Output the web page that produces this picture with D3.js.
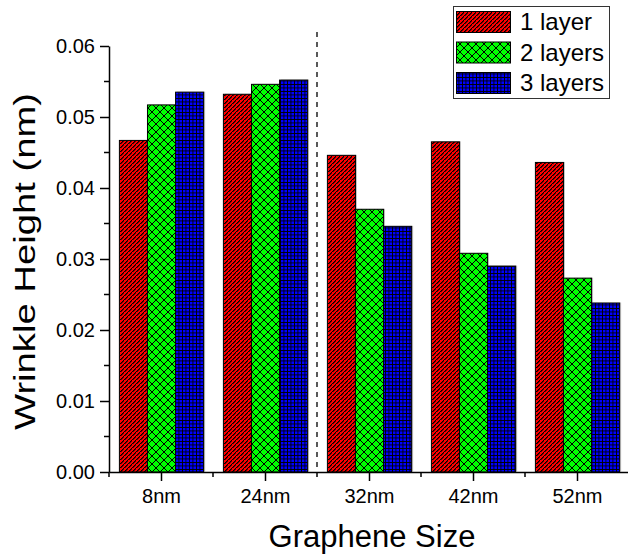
<!DOCTYPE html>
<html>
<head>
<meta charset="utf-8">
<script src="https://cdn.jsdelivr.net/npm/d3@7"></script>
<style>
  body { margin: 0; background: #fff; }
  text { font-family: "Liberation Sans", Arial, sans-serif; }
</style>
</head>
<body>
<div id="chart"></div>
<script>
// Chart data
var sizes = ["8nm", "24nm", "32nm", "42nm", "52nm"];
var seriesNames = ["1 layer", "2 layers", "3 layers"];
var oneLayer = [0.0467, 0.0532, 0.0446, 0.0465, 0.0436];
var twoLayers = [0.0517, 0.0546, 0.0370, 0.0308, 0.0273];
var threeLayers = [0.0535, 0.0552, 0.0346, 0.0290, 0.0238];
var yTicks = [0, 0.01, 0.02, 0.03, 0.04, 0.05, 0.06];

var width = 628;
var height = 555;
var plotLeft = 109, plotRight = 629, plotTop = 46, plotBottom = 472;

var allSeries = [oneLayer, twoLayers, threeLayers];
var fills = ["url(#p-red)", "url(#p-green)", "url(#p-blue)"];

var svg = d3.select('#chart')
    .append('svg')
    .attr('width', width)
    .attr('height', height);

// Patterns for the bars (crisp, like the original bitmap hatching)
var defs = svg.append('defs');

// red: "/" stripes every 4px, drawn pixel by pixel
var pRed = defs.append('pattern').attr('id', 'p-red')
    .attr('patternUnits', 'userSpaceOnUse').attr('width', 4).attr('height', 4);
pRed.append('rect').attr('width', 4).attr('height', 4).attr('fill', '#ff0000');
pRed.selectAll('rect.px')
    .data([0, 1, 2, 3])
    .enter().append('rect')
        .attr('class', 'px')
        .attr('x', function (k) { return k; })
        .attr('y', function (k) { return 3 - k; })
        .attr('width', 1.6).attr('height', 1)
        .attr('fill', '#000');
pRed.append('rect').attr('x', 0).attr('y', 3).attr('width', 0.6).attr('height', 1).attr('fill', '#000');

var pGreen = defs.append('pattern').attr('id', 'p-green')
    .attr('patternUnits', 'userSpaceOnUse').attr('width', 8).attr('height', 8);
pGreen.append('rect').attr('width', 8).attr('height', 8).attr('fill', '#00ff00');
pGreen.append('path').attr('d', 'M0,0 L8,8 M0,8 L8,0 M-1,1 L1,-1 M7,9 L9,7 M-1,7 L1,9 M7,-1 L9,1')
    .attr('stroke', '#000').attr('stroke-width', 1.1)
    .attr('shape-rendering', 'crispEdges');

var pBlue = defs.append('pattern').attr('id', 'p-blue')
    .attr('patternUnits', 'userSpaceOnUse').attr('width', 3.5).attr('height', 3.5);
pBlue.append('rect').attr('width', 3.5).attr('height', 3.5).attr('fill', '#0000ff');
pBlue.append('path').attr('d', 'M0,0.5 H3.5 M0.5,0 V3.5')
    .attr('stroke', '#000').attr('stroke-width', 1)
    .attr('shape-rendering', 'crispEdges');

// Scales
var x = d3.scaleLinear().domain([0.5, 5.5]).range([plotLeft, plotRight]);
var y = d3.scaleLinear().domain([0, 0.06]).range([plotBottom, plotTop]);
var inner = d3.scaleBand().domain([0, 1, 2]).range([-0.4, 0.41]);

// Bars, each with a faint grey shadow on the right
allSeries.forEach(function (values, j) {
    var g = svg.append('g');
    g.selectAll('rect.shadow')
        .data(values)
        .enter()
        .append('rect')
            .attr('class', 'shadow')
            .attr('x', function (d, i) { return x(i + 1 + inner(j)) + 1.5; })
            .attr('width', function () { return x(inner.bandwidth()) - x(0); })
            .attr('y', function (d) { return y(d) - 0.5; })
            .attr('height', function (d) { return y(0) - y(d); })
            .attr('fill', '#c4c4c4');
    g.selectAll('rect.bar')
        .data(values)
        .enter()
        .append('rect')
            .attr('class', 'bar')
            .attr('x', function (d, i) { return x(i + 1 + inner(j)); })
            .attr('width', function () { return x(inner.bandwidth()) - x(0); })
            .attr('y', function (d) { return y(d); })
            .attr('height', function (d) { return y(0) - y(d); })
            .attr('fill', fills[j])
            .attr('stroke', '#000')
            .attr('stroke-width', 1);
});

// Dashed separator between 24nm and 32nm
svg.append('line')
    .attr('x1', x(2.5)).attr('x2', x(2.5))
    .attr('y1', 32).attr('y2', plotBottom)
    .attr('stroke', '#000').attr('stroke-width', 1.3)
    .attr('stroke-dasharray', '5,5');

// Y axis
var yAxis = d3.axisLeft(y).tickValues(yTicks).tickFormat(d3.format('.2f'))
    .tickSizeInner(9).tickSizeOuter(0).tickPadding(5);
var gy = svg.append('g').attr('transform', 'translate(' + plotLeft + ',0)').call(yAxis);
gy.selectAll('text').attr('font-size', 20).attr('fill', '#000');
gy.selectAll('line, path').attr('stroke', '#000').attr('stroke-width', 1.5);
svg.append('g').selectAll('line')
    .data(d3.range(0.005, 0.06, 0.01))
    .enter().append('line')
        .attr('x1', plotLeft - 5).attr('x2', plotLeft)
        .attr('y1', function (d) { return y(d); })
        .attr('y2', function (d) { return y(d); })
        .attr('stroke', '#000').attr('stroke-width', 1.5);

// X axis
var xAxis = d3.axisBottom(x).tickValues([1, 2, 3, 4, 5])
    .tickFormat(function (d) { return sizes[d - 1]; })
    .tickSizeInner(9).tickSizeOuter(0).tickPadding(8);
var gx = svg.append('g').attr('transform', 'translate(0,' + plotBottom + ')').call(xAxis);
gx.selectAll('text').attr('font-size', 20).attr('fill', '#000');
gx.selectAll('line, path').attr('stroke', '#000').attr('stroke-width', 1.5);
svg.append('g').selectAll('line')
    .data([0.5, 1.5, 2.5, 3.5, 4.5])
    .enter().append('line')
        .attr('x1', function (d) { return x(d); })
        .attr('x2', function (d) { return x(d); })
        .attr('y1', plotBottom).attr('y2', plotBottom + 5)
        .attr('stroke', '#000').attr('stroke-width', 1.5);

// Axis titles
svg.append('text')
    .attr('x', 372).attr('y', 547)
    .attr('text-anchor', 'middle').attr('font-size', 31)
    .text('Graphene Size');
svg.append('text')
    .attr('transform', 'translate(35,261.5) rotate(-90)')
    .attr('text-anchor', 'middle').attr('font-size', 30)
    .attr('textLength', 337).attr('lengthAdjust', 'spacingAndGlyphs')
    .text('Wrinkle Height (nm)');

// Legend
var legend = svg.append('g');
legend.append('rect')
    .attr('x', 453.5).attr('y', 6.5).attr('width', 156).attr('height', 92)
    .attr('fill', '#fff').attr('stroke', '#333').attr('stroke-width', 1);
seriesNames.forEach(function (name, j) {
    legend.append('rect')
        .attr('x', 456.5).attr('y', 11.5 + j * 30.5)
        .attr('width', 54).attr('height', 21)
        .attr('fill', fills[j]).attr('stroke', '#000').attr('stroke-width', 1);
    legend.append('text')
        .attr('x', 520).attr('y', 30 + j * 30.5)
        .attr('font-size', 24)
        .text(name);
});
</script>
</body>
</html>
